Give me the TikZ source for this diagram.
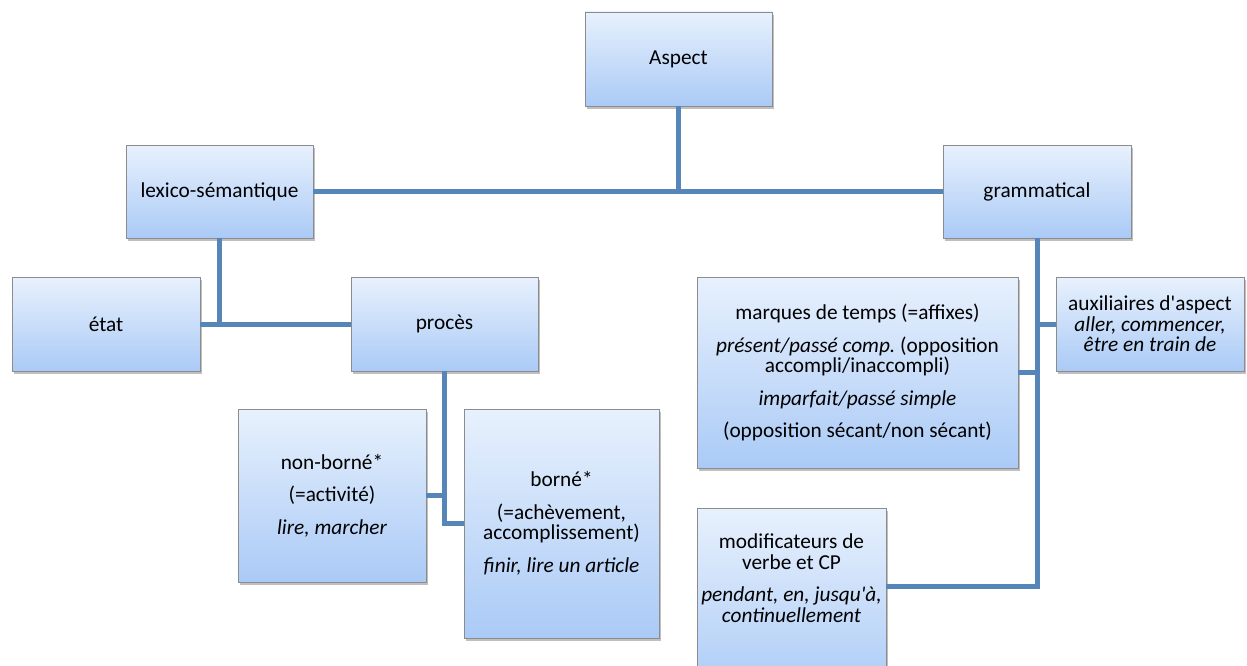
\documentclass[tikz,border=0pt]{standalone}
\usepackage{fontspec}
\setmainfont{Carlito}[Ligatures=TeXOff]
\usetikzlibrary{shadows}
\definecolor{linkblue}{HTML}{5685BA}
\definecolor{boxtop}{HTML}{E8F1FD}
\definecolor{boxbot}{HTML}{AACAF6}
\definecolor{boxline}{HTML}{8C8C8C}
\frenchspacing
\begin{document}
\begin{tikzpicture}[x=1pt,y=-1pt,
  font=\fontsize{21.3}{20.5}\selectfont,
  box/.style={draw=boxline, line width=0.9pt, top color=boxtop, bottom color=boxbot,
    drop shadow={shadow xshift=1.5pt, shadow yshift=-3pt, opacity=0.25, fill=black},
    inner sep=0pt, align=center},
  plain/.style={inner sep=0pt, align=center},
  link/.style={draw=linkblue, line width=5pt}]
\useasboundingbox (0,0) rectangle (1247,666);
\fill[white] (0,0) rectangle (1247,666);

% boxes
\node[box, minimum width=187pt, minimum height=94pt] (aspect) at (678.5,59) {Aspect};
\node[box, minimum width=187pt, minimum height=93pt] (lexico) at (219.5,191.5) {lexico-sémantique};
\node[box, minimum width=188pt, minimum height=93pt] (gram) at (1037,191.5) {grammatical};
\node[box, minimum width=188pt, minimum height=94pt] (etat) at (106,324) {état};
\node[box, minimum width=187pt, minimum height=94pt] (proces) at (444.5,324) {procès};
\node[box, minimum width=188pt, minimum height=173pt] (nonborne) at (332,495.5)
  {non-borné*\\[12pt](=activité)\\[12pt]{\itshape lire, marcher}};
\node[box, minimum width=195pt, minimum height=229pt] (borne) at (561.5,523.5)
  {borné*\\[12pt](=achèvement,\\accomplissement)\\[12pt]{\itshape finir, lire un article}};
\node[box, minimum width=321pt, minimum height=191pt] (marques) at (857.5,372.5)
  {marques de temps (=affixes)\\[12pt]{\itshape présent/passé comp.}\ (opposition\\accompli/inaccompli)\\[12pt]{\itshape imparfait/passé simple}\\[12pt](opposition sécant/non sécant)};
\node[box, minimum width=188pt, minimum height=94pt] (aux) at (1150,324)
  {auxiliaires d'aspect\\{\itshape aller, commencer,}\\{\itshape être en train de}};
\node[box, minimum width=189pt, minimum height=190pt] (modif) at (791.5,603) {};
\node[plain] (modiftext) at (791.5,578)
  {modificateurs de\\verbe et CP\\[12pt]{\itshape pendant, en, jusqu'à,}\\{\itshape continuellement}};

% connectors
\draw[link] (lexico.east) -- (gram.west);
\draw[link] (aspect.south) -- (aspect.south |- lexico.east);
\draw[link] (etat.east) -- (proces.west);
\draw[link] (lexico.south) -- (lexico.south |- etat.east);
\draw[link] (nonborne.east) -- (proces.south |- nonborne.east);
\draw[link] (proces.south) |- (borne.west);
\coordinate (mc) at ([yshift=17pt]modif.east);
\draw[link] (gram.south) |- (mc);
\draw[link] (marques.east) -- (gram.south |- marques.east);
\draw[link] (aux.west) -- (gram.south |- aux.west);
\end{tikzpicture}
\end{document}
